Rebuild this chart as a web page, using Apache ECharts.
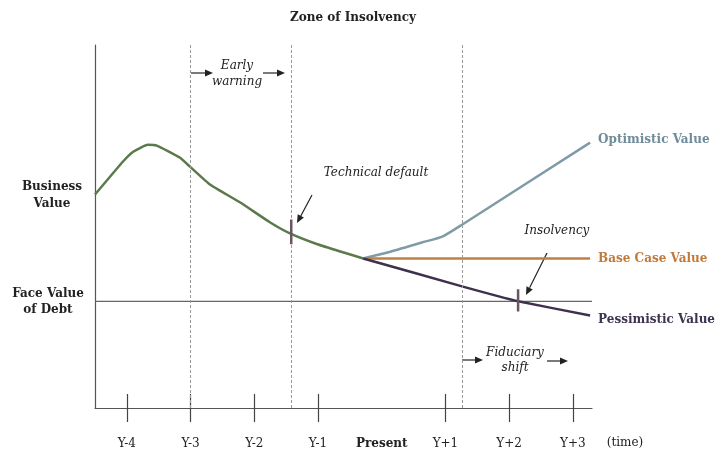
<!DOCTYPE html>
<html lang="en">
<head>
    <meta charset="UTF-8">
    <title>Zone of Insolvency</title>
    <script src="https://cdn.jsdelivr.net/npm/echarts@6/dist/echarts.min.js"></script>
    <style>
        html, body, #main {
            padding: 0;
            margin: 0;
            width: 100%;
            height: 100%;
            background: #fff;
        }
    </style>
</head>
<body>
    <div id="main"></div>
    <script type="text/javascript">
        // time axis: Y-4 .. Y+3, Present = 0
        var tickValues = [-4, -3, -2, -1, 1, 2, 3];
        var labelValues = [-4, -3, -2, -1, 0, 1, 2, 3];
        var timeLabels = ['Y-4', 'Y-3', 'Y-2', 'Y-1', 'Present', 'Y+1', 'Y+2', 'Y+3'];

        // [time, value] (value scale 0..100)
        var businessValue = [[-4.5, 58.8], [-4.06, 67.9], [-3.90, 70.6], [-3.67, 72.5], [-3.53, 72.3],
            [-3.17, 69.0], [-3.01, 66.5], [-2.69, 61.5], [-2.22, 56.6], [-1.75, 51.1], [-1.44, 48.1],
            [-1.01, 45.1], [-0.61, 42.9], [-0.29, 41.2]];
        var optimisticValue = [[-0.29, 41.2], [0.10, 42.9], [0.63, 45.6], [0.96, 47.3], [1.26, 50.5], [3.27, 73.1]];
        var baseCaseValue = [[-0.29, 41.2], [3.27, 41.2]];
        var pessimisticValue = [[-0.29, 41.2], [1.26, 33.5], [2.14, 29.4], [3.27, 25.5]];
        var debtLevel = 29.4;
        var zoneLines = [-3, -1.42, 1.26];
        var defaultMark = [[-1.42, 51.9], [-1.42, 45.1]];
        var insolvencyMark = [[2.14, 32.7], [2.14, 26.6]];

        var serif = 'DejaVu Serif';
        var chart = echarts.init(document.getElementById('main'));

        function arrow(x1, y1, x2, y2) {
            var a = Math.atan2(y2 - y1, x2 - x1), L = 8, W = 3.5;
            var bx = x2 - L * Math.cos(a), by = y2 - L * Math.sin(a);
            return {
                type: 'group',
                children: [{
                    type: 'line',
                    shape: { x1: x1, y1: y1, x2: bx, y2: by },
                    style: { stroke: '#222', lineWidth: 1.2 }
                }, {
                    type: 'polygon',
                    shape: {
                        points: [[x2, y2],
                            [bx + W * Math.sin(a), by - W * Math.cos(a)],
                            [bx - W * Math.sin(a), by + W * Math.cos(a)]]
                    },
                    style: { fill: '#222' }
                }]
            };
        }

        function txt(x, y, s, opt) {
            return {
                type: 'text', x: x, y: y,
                style: Object.assign({
                    text: s, fontFamily: serif, fontSize: 12, fill: '#222',
                    align: 'center', verticalAlign: 'middle'
                }, opt || {})
            };
        }

        function endLabel(color, dy) {
            return {
                show: true,
                formatter: '{a}',
                color: color,
                fontFamily: serif,
                fontSize: 12,
                fontWeight: 'bold',
                distance: 8,
                offset: [0, dy]
            };
        }

        var option = {
            animation: false,
            grid: { left: 95, right: 135, top: 45, bottom: 41 },
            xAxis: [{
                type: 'value',
                min: -4.5,
                max: 3.3,
                axisLine: { onZero: false, lineStyle: { color: '#555', width: 1.2 } },
                splitLine: { show: false },
                axisTick: { show: true, customValues: tickValues, length: 14, lineStyle: { color: '#444', width: 1.2 } },
                axisLabel: {
                    customValues: labelValues,
                    margin: 30,
                    fontFamily: serif,
                    fontSize: 12,
                    color: '#222',
                    formatter: function (v) {
                        var s = timeLabels[labelValues.indexOf(Math.round(v))];
                        return v === 0 ? '{b|' + s + '}' : s;
                    },
                    rich: { b: { fontWeight: 'bold', fontFamily: serif, fontSize: 12, color: '#222' } }
                }
            }, {
                type: 'value',
                position: 'bottom',
                min: -4.5,
                max: 3.3,
                axisLine: { show: false, onZero: false },
                splitLine: { show: false },
                axisLabel: { show: false },
                axisTick: { show: true, inside: true, customValues: tickValues, length: 14, lineStyle: { color: '#444', width: 1.2 } }
            }],
            yAxis: {
                type: 'value',
                min: 0,
                max: 100,
                axisLine: { show: true, onZero: false, lineStyle: { color: '#555', width: 1.2 } },
                axisTick: { show: false },
                axisLabel: { show: false },
                splitLine: { show: false }
            },
            series: [{
                name: 'Face Value of Debt',
                type: 'line',
                z: 1,
                symbol: 'none',
                data: [[-4.5, debtLevel], [3.3, debtLevel]],
                lineStyle: { color: '#666', width: 1.2 },
                markLine: {
                    silent: true,
                    symbol: 'none',
                    label: { show: false },
                    lineStyle: { color: '#999', width: 1, type: [3, 2] },
                    data: zoneLines.map(function (x) { return { xAxis: x }; })
                }
            }, {
                name: 'Business Value',
                type: 'line',
                symbol: 'none',
                smooth: 0.15,
                data: businessValue,
                lineStyle: { color: '#5b7a4b', width: 2.5 }
            }, {
                name: 'Optimistic Value',
                type: 'line',
                symbol: 'none',
                smooth: 0.2,
                data: optimisticValue,
                lineStyle: { color: '#7f9ba8', width: 2.5 },
                endLabel: endLabel('#6f8c9a', -3)
            }, {
                name: 'Base Case Value',
                type: 'line',
                symbol: 'none',
                data: baseCaseValue,
                lineStyle: { color: '#c0803f', width: 2.5 },
                endLabel: endLabel('#c07b3c', 0)
            }, {
                name: 'Pessimistic Value',
                type: 'line',
                symbol: 'none',
                smooth: 0.1,
                data: pessimisticValue,
                lineStyle: { color: '#3e304e', width: 2.5 },
                endLabel: endLabel('#3e3450', 4)
            }, {
                name: 'default',
                type: 'line',
                symbol: 'none',
                z: 5,
                data: defaultMark,
                lineStyle: { color: '#6a5660', width: 2.5 }
            }, {
                name: 'insolvency',
                type: 'line',
                symbol: 'none',
                z: 5,
                data: insolvencyMark,
                lineStyle: { color: '#6a5660', width: 2.5 }
            }],
            graphic: [
                txt(353, 18, 'Zone of Insolvency', { fontWeight: 'bold' }),
                txt(52, 187, 'Business', { fontWeight: 'bold' }),
                txt(52, 204, 'Value', { fontWeight: 'bold' }),
                txt(48, 294, 'Face Value', { fontWeight: 'bold' }),
                txt(48, 310, 'of Debt', { fontWeight: 'bold' }),
                txt(237, 66, 'Early', { fontStyle: 'italic' }),
                txt(237, 82, 'warning', { fontStyle: 'italic' }),
                txt(376, 173, 'Technical default', { fontStyle: 'italic' }),
                txt(557, 231, 'Insolvency', { fontStyle: 'italic' }),
                txt(515, 353, 'Fiduciary', { fontStyle: 'italic' }),
                txt(515, 368, 'shift', { fontStyle: 'italic' }),
                txt(625, 443, '(time)'),
                arrow(191, 73, 213, 73),
                arrow(263, 73, 285, 73),
                arrow(462, 360, 483, 360),
                arrow(547, 361, 568, 361),
                arrow(312, 195, 297, 223),
                arrow(547, 253, 526, 295)
            ]
        };

        chart.setOption(option);
        window.onresize = function () { chart.resize(); };
    </script>
</body>
</html>
